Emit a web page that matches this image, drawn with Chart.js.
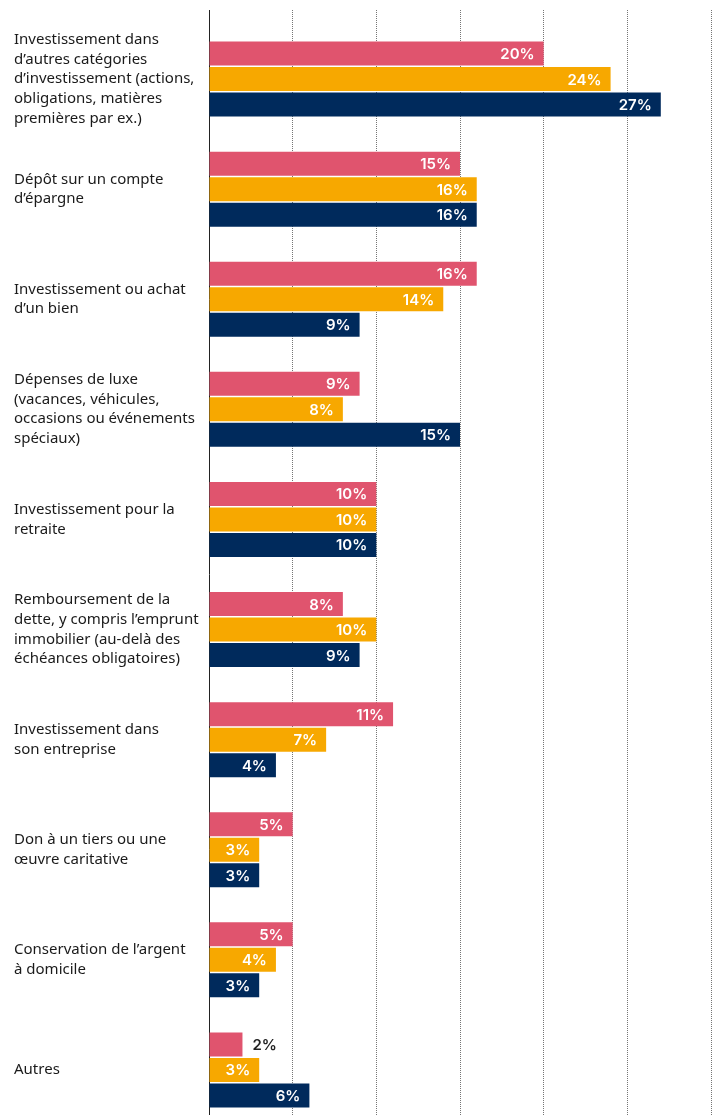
<!DOCTYPE html>
<html lang="fr">
<head>
<meta charset="utf-8">
<title>Utilisation de l'argent</title>
<script src="https://cdn.jsdelivr.net/npm/chart.js@4/dist/chart.umd.min.js"></script>
<style>
  html, body { margin: 0; padding: 0; background: #fff; overflow: hidden; }
  canvas { display: block; }
</style>
</head>
<body>
<canvas id="myChart" width="719" height="1125"></canvas>
<script>
var categories = [
  ['Investissement dans', 'd’autres catégories', 'd’investissement (actions,', 'obligations, matières', 'premières par ex.)'],
  ['Dépôt sur un compte', 'd’épargne'],
  ['Investissement ou achat', 'd’un bien'],
  ['Dépenses de luxe', '(vacances, véhicules,', 'occasions ou événements', 'spéciaux)'],
  ['Investissement pour la', 'retraite'],
  ['Remboursement de la', 'dette, y compris l’emprunt', 'immobilier (au-delà des', 'échéances obligatoires)'],
  ['Investissement dans', 'son entreprise'],
  ['Don à un tiers ou une', 'œuvre caritative'],
  ['Conservation de l’argent', 'à domicile'],
  ['Autres']
];

var groupRose = [20, 15, 16, 9, 10, 8, 11, 5, 5, 2];
var groupOrange = [24, 16, 14, 8, 10, 10, 7, 3, 4, 3];
var groupBleu = [27, 16, 9, 15, 10, 9, 4, 3, 3, 6];

var xTicks = [0, 5, 10, 15, 20, 25, 30];

var colours = ['#e0546e', '#f7a800', '#002a5c'];

// value labels at the end of each bar, white inside or dark next to it when the bar is too short
var barLabels = {
  id: 'barLabels',
  afterDatasetsDraw: function(chart) {
    var ctx = chart.ctx;
    ctx.save();
    ctx.font = '600 15px Inter, "DejaVu Sans", sans-serif';
    ctx.textBaseline = 'middle';
    chart.data.datasets.forEach(function(ds, di) {
      var meta = chart.getDatasetMeta(di);
      meta.data.forEach(function(bar, i) {
        var txt = ds.data[i] + '%';
        var w = ctx.measureText(txt).width;
        var pad = 9;
        if (bar.x - bar.base < w + pad * 2) {
          ctx.fillStyle = '#222';
          ctx.textAlign = 'left';
          ctx.fillText(txt, bar.x + pad + 1, bar.y + 1);
        } else {
          ctx.fillStyle = '#fff';
          ctx.textAlign = 'right';
          ctx.fillText(txt, bar.x - pad, bar.y + 1);
        }
      });
    });
    ctx.restore();
  }
};

var gridColour = function(c) { return c.index === 0 ? '#222' : '#757575'; };
var gridDash = function(c) { return c.index === 0 ? [] : [1, 1]; };

var ctx = document.getElementById('myChart').getContext('2d');
var chartOne = new Chart(ctx, {
  type: 'bar',
  data: {
    labels: categories,
    datasets: [
      { label: 'Groupe 1', data: groupRose, backgroundColor: colours[0] },
      { label: 'Groupe 2', data: groupOrange, backgroundColor: colours[1] },
      { label: 'Groupe 3', data: groupBleu, backgroundColor: colours[2] }
    ]
  },
  options: {
    indexAxis: 'y',
    responsive: false,
    animation: false,
    categoryPercentage: 0.695,
    barPercentage: 0.94,
    layout: { padding: { top: 10, left: 14, right: 8, bottom: 0 } },
    plugins: {
      legend: { display: false },
      tooltip: { enabled: false }
    },
    scales: {
      x: {
        position: 'top',
        min: 0,
        max: 30,
        afterBuildTicks: function(scale) {
          scale.ticks = xTicks.map(function(v) { return { value: v }; });
        },
        ticks: { display: false },
        border: { display: false, dash: gridDash },
        grid: {
          color: gridColour,
          lineWidth: 1,
          drawTicks: true,
          tickLength: 14,
          tickColor: gridColour,
          tickBorderDash: gridDash
        }
      },
      y: {
        grid: { display: false },
        border: { display: false },
        afterFit: function(scale) {
          // labels sit well inside their category bands, no extra room needed
          scale.width = 195;
          scale.paddingTop = 0;
          scale.paddingBottom = 0;
        },
        ticks: {
          crossAlign: 'far',
          padding: 0,
          color: '#1a1a1a',
          font: { family: '"Noto Sans", "Open Sans", sans-serif', size: 15, lineHeight: 1.31 }
        }
      }
    }
  },
  plugins: [barLabels]
});
</script>
</body>
</html>
